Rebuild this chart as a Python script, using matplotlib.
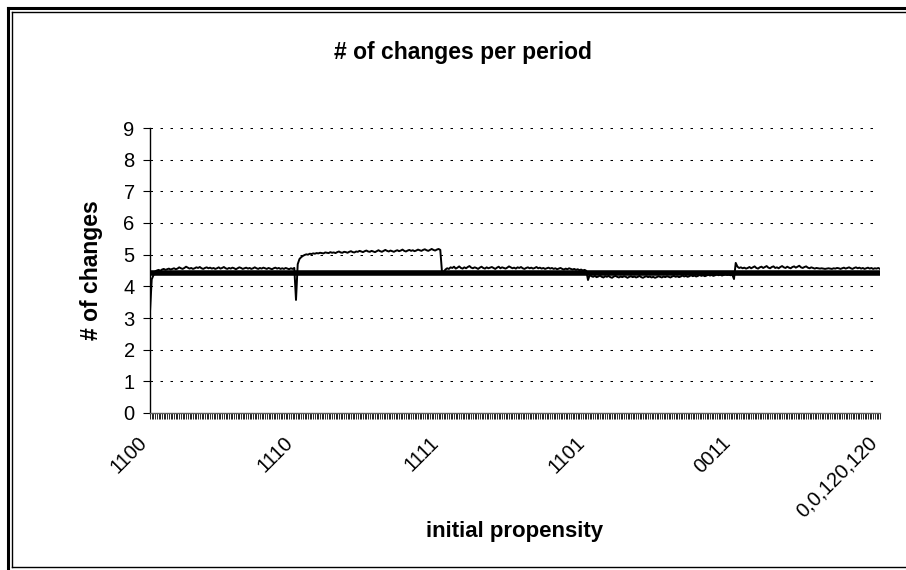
import matplotlib
matplotlib.use("Agg")
import matplotlib.pyplot as plt
from matplotlib.lines import Line2D
from matplotlib.transforms import ScaledTranslation
import numpy as np

plt.rcParams['font.family'] = ['Liberation Sans', 'DejaVu Sans']

title = "# of changes per period"
xlabel = "initial propensity"
ylabel = "# of changes"
block_labels = ["1100", "1110", "1111", "1101", "0011"]
end_label = "0,0,120,120"
avg_value = 4.43

block_1100 = [3.20, 4.22, 4.35, 4.47, 4.50, 4.52, 4.49, 4.53, 4.55, 4.52, 4.54, 4.56, 4.53, 4.55, 4.57,
              4.54, 4.56, 4.60, 4.57, 4.55, 4.58, 4.62, 4.59, 4.56, 4.58, 4.55, 4.57, 4.60, 4.58, 4.61,
              4.57, 4.55, 4.58, 4.60, 4.57, 4.59, 4.56, 4.58, 4.55, 4.57, 4.60, 4.56, 4.58, 4.61, 4.57,
              4.55, 4.58, 4.56, 4.59, 4.57, 4.54, 4.57, 4.60, 4.58, 4.55, 4.57, 4.59, 4.56, 4.58, 4.55,
              4.57, 4.60, 4.57, 4.55, 4.58, 4.56, 4.59, 4.57, 4.55, 4.58, 4.56, 4.54, 4.57, 4.59, 4.56,
              4.58, 4.55, 4.57, 4.55, 4.58, 4.56, 4.54, 4.57, 4.55, 4.58]
block_1110 = [3.57, 4.70, 4.86, 4.92, 4.96, 4.99, 5.01, 5.00, 5.03, 5.02, 5.04, 5.03, 5.05, 5.04, 5.06,
              5.05, 5.04, 5.07, 5.06, 5.05, 5.08, 5.06, 5.07, 5.05, 5.08, 5.10, 5.07, 5.06, 5.09, 5.08,
              5.06, 5.09, 5.11, 5.08, 5.07, 5.10, 5.09, 5.12, 5.10, 5.08, 5.11, 5.13, 5.10, 5.09, 5.12,
              5.10, 5.08, 5.11, 5.14, 5.11, 5.09, 5.12, 5.15, 5.12, 5.10, 5.13, 5.11, 5.09, 5.12, 5.14,
              5.11, 5.13, 5.16, 5.12, 5.10, 5.13, 5.15, 5.12, 5.14, 5.11, 5.13, 5.16, 5.14, 5.12, 5.15,
              5.17, 5.14, 5.12, 5.15, 5.18, 5.15, 5.13, 5.16, 5.18, 5.15]
block_1111 = [4.45, 4.46, 4.53, 4.57, 4.55, 4.60, 4.58, 4.62, 4.56, 4.59, 4.63, 4.58, 4.56, 4.60, 4.57,
              4.61, 4.64, 4.59, 4.57, 4.60, 4.58, 4.55, 4.59, 4.62, 4.58, 4.56, 4.60, 4.57, 4.59, 4.61,
              4.58, 4.55, 4.59, 4.62, 4.57, 4.60, 4.58, 4.56, 4.59, 4.63, 4.60, 4.57, 4.59, 4.56, 4.60,
              4.58, 4.61, 4.57, 4.55, 4.58, 4.60, 4.57, 4.59, 4.56, 4.58, 4.61, 4.57, 4.59, 4.56, 4.58,
              4.55, 4.57, 4.59, 4.56, 4.58, 4.55, 4.57, 4.54, 4.56, 4.58, 4.55, 4.53, 4.56, 4.54, 4.57,
              4.55, 4.53, 4.55, 4.52, 4.54, 4.51, 4.53, 4.50, 4.52, 4.49]
block_1101 = [4.20, 4.36, 4.32, 4.30, 4.33, 4.29, 4.31, 4.34, 4.30, 4.28, 4.32, 4.30, 4.33, 4.29, 4.27,
              4.31, 4.33, 4.30, 4.28, 4.31, 4.29, 4.32, 4.30, 4.27, 4.30, 4.32, 4.29, 4.31, 4.28, 4.30,
              4.33, 4.29, 4.27, 4.30, 4.32, 4.29, 4.31, 4.28, 4.30, 4.27, 4.29, 4.32, 4.30, 4.28, 4.31,
              4.29, 4.32, 4.30, 4.28, 4.31, 4.33, 4.30, 4.32, 4.29, 4.31, 4.34, 4.31, 4.33, 4.30, 4.32,
              4.35, 4.32, 4.34, 4.31, 4.33, 4.36, 4.33, 4.35, 4.32, 4.34, 4.37, 4.34, 4.36, 4.33, 4.35,
              4.38, 4.35, 4.37, 4.34, 4.36, 4.38, 4.36, 4.37, 4.35, 4.37]
block_0011 = [4.23, 4.74, 4.62, 4.58, 4.60, 4.57, 4.59, 4.56, 4.58, 4.61, 4.57, 4.60, 4.63, 4.58, 4.56,
              4.60, 4.62, 4.58, 4.61, 4.64, 4.59, 4.57, 4.61, 4.63, 4.58, 4.60, 4.57, 4.61, 4.64, 4.60,
              4.58, 4.62, 4.59, 4.57, 4.61, 4.63, 4.59, 4.62, 4.65, 4.60, 4.58, 4.61, 4.63, 4.59, 4.57,
              4.60, 4.58, 4.56, 4.58, 4.57, 4.56, 4.57, 4.56, 4.55, 4.56, 4.57, 4.56, 4.55, 4.57, 4.56,
              4.58, 4.57, 4.55, 4.57, 4.59, 4.56, 4.58, 4.60, 4.57, 4.55, 4.58, 4.60, 4.57, 4.59, 4.56,
              4.58, 4.55, 4.57, 4.59, 4.56, 4.58, 4.55, 4.57, 4.56, 4.58]
end_value = [4.55]

blocks = [block_1100, block_1110, block_1111, block_1101, block_0011]
series = [v for b in blocks for v in b] + end_value
n = len(series)
x = np.arange(n)
starts = np.cumsum([0] + [len(b) for b in blocks])[:-1]
tick_pos = list(starts) + [n - 1]
tick_labels = block_labels + [end_label]

W, H = 906, 570
fig = plt.figure(figsize=(W / 100, H / 100), dpi=100)
ax = fig.add_axes([150 / W, (H - 413) / H, 730 / W, (413 - 128) / H])

ax.plot(x, [avg_value] * n, color='black', lw=4.0, solid_capstyle='butt', zorder=3)
ax.plot(x, series, color='black', lw=1.4, zorder=4)

ax.set_xlim(0, n - 1)
ax.set_ylim(0, 9)
ax.set_yticks(range(10))
ax.yaxis.grid(True, color='black', lw=0.75, linestyle=(0, (2.4, 7.2)))
ax.set_axisbelow(True)
for s in ['top', 'right']:
    ax.spines[s].set_visible(False)
ax.spines['left'].set_linewidth(1.0)
ax.spines['bottom'].set_linewidth(1.0)
ax.spines['bottom'].set_color('#606060')

ax.set_xticks(tick_pos)
ax.set_xticklabels(tick_labels, rotation=45, ha='right', va='top', rotation_mode='anchor', fontsize=14.5)
ax.set_xticks(x, minor=True)
ax.tick_params(axis='x', which='both', length=4.5, width=0.6, direction='out', pad=10)
ax.tick_params(axis='y', length=5, width=0.8, direction='out', labelsize=14.5, pad=6)
offset = ScaledTranslation(-13 / 100, 0, fig.dpi_scale_trans)
for lab in ax.get_xticklabels():
    lab.set_transform(lab.get_transform() + offset)

ax.set_xlabel(xlabel, fontsize=16, fontweight='bold', labelpad=0)
ax.set_ylabel(ylabel, fontsize=16.5, fontweight='bold', labelpad=15)
fig.text(463 / W, 1 - 52 / H, title, fontsize=16.5, fontweight='bold', ha='center', va='center')

# frame
fig.add_artist(Line2D([8 / W, 8 / W], [0, 1 - 8 / H], color='black', lw=2.2, transform=fig.transFigure))
fig.add_artist(Line2D([8 / W, 1], [1 - 8 / H, 1 - 8 / H], color='black', lw=2.2, transform=fig.transFigure))
fig.add_artist(Line2D([12 / W, 12 / W], [1 - 567 / H, 1 - 12 / H], color='black', lw=1.0, transform=fig.transFigure))
fig.add_artist(Line2D([12 / W, 1], [1 - 12 / H, 1 - 12 / H], color='black', lw=1.0, transform=fig.transFigure))
fig.add_artist(Line2D([12 / W, 1], [1 - 567 / H, 1 - 567 / H], color='black', lw=1.0, transform=fig.transFigure))

fig.savefig("out.png", dpi=100)
